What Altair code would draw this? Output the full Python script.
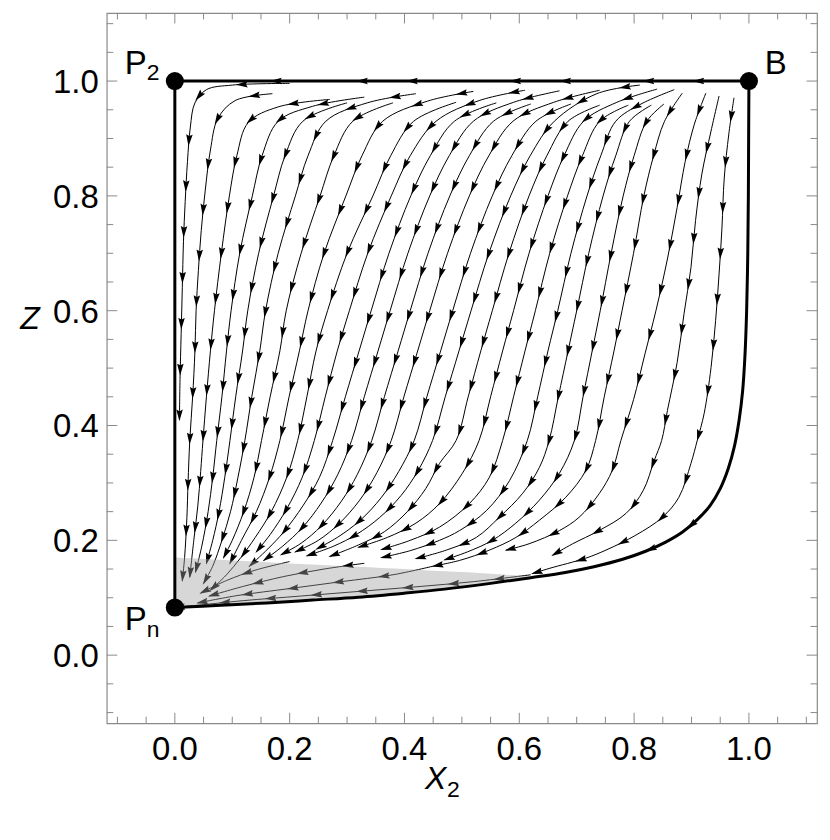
import math
import altair as alt
import pandas as pd

# ---------------- data ----------------
# streamlines, each a list of (X2, Z) points in flow direction
L1 = [(0.20, 0.996), (0.10, 0.993), (0.055, 0.985), (0.035, 0.962), (0.027, 0.92), (0.022, 0.86),
      (0.018, 0.79), (0.015, 0.72), (0.013, 0.64), (0.011, 0.56), (0.009, 0.48), (0.008, 0.41)]
A1 = [(0.17, 0.978), (0.105, 0.966), (0.075, 0.935), (0.062, 0.88), (0.053, 0.81), (0.046, 0.74),
      (0.041, 0.67), (0.037, 0.6), (0.035, 0.53), (0.031, 0.45), (0.026, 0.374), (0.023, 0.30),
      (0.021, 0.24), (0.017, 0.17), (0.013, 0.13)]
A2 = [(0.27, 0.968), (0.18, 0.955), (0.128, 0.928), (0.108, 0.87), (0.095, 0.8), (0.081, 0.7),
      (0.069, 0.6), (0.062, 0.53), (0.055, 0.45), (0.049, 0.374), (0.045, 0.32), (0.04, 0.26),
      (0.033, 0.2), (0.026, 0.136)]
A3 = [(0.33, 0.972), (0.24, 0.956), (0.18, 0.93), (0.152, 0.87), (0.135, 0.8), (0.113, 0.7),
      (0.098, 0.6), (0.09, 0.53), (0.082, 0.45), (0.073, 0.374), (0.066, 0.31), (0.058, 0.25),
      (0.047, 0.19), (0.036, 0.145)]
A4 = [(0.3, 0.962), (0.223, 0.93), (0.192, 0.87), (0.172, 0.8), (0.146, 0.7), (0.127, 0.6),
      (0.118, 0.53), (0.106, 0.45), (0.096, 0.374), (0.087, 0.31), (0.077, 0.25), (0.066, 0.2),
      (0.055, 0.16)]
A5 = [(0.42, 0.978), (0.335, 0.962), (0.263, 0.93), (0.232, 0.87), (0.21, 0.8), (0.18, 0.7),
      (0.158, 0.6), (0.148, 0.53), (0.134, 0.45), (0.122, 0.374), (0.11, 0.31), (0.097, 0.25),
      (0.082, 0.2), (0.066, 0.155), (0.05, 0.125)]
A6 = [(0.38, 0.962), (0.31, 0.93), (0.277, 0.87), (0.253, 0.8), (0.22, 0.7), (0.194, 0.6),
      (0.183, 0.53), (0.166, 0.45), (0.151, 0.374), (0.138, 0.31), (0.12, 0.25), (0.1, 0.2),
      (0.085, 0.17)]
A7 = [(0.52, 0.982), (0.44, 0.965), (0.362, 0.93), (0.326, 0.87), (0.298, 0.8), (0.26, 0.7),
      (0.232, 0.6), (0.217, 0.53), (0.199, 0.45), (0.183, 0.374), (0.165, 0.31), (0.142, 0.25),
      (0.116, 0.2), (0.096, 0.16)]
A8 = [(0.49, 0.963), (0.416, 0.93), (0.376, 0.87), (0.345, 0.8), (0.30, 0.7), (0.266, 0.6),
      (0.246, 0.53), (0.23, 0.45), (0.214, 0.374), (0.195, 0.31), (0.168, 0.25), (0.14, 0.205),
      (0.115, 0.17), (0.09, 0.14), (0.062, 0.113)]
A9 = [(0.61, 0.984), (0.53, 0.966), (0.455, 0.93), (0.41, 0.87), (0.377, 0.8), (0.336, 0.7),
      (0.304, 0.6), (0.283, 0.53), (0.262, 0.45), (0.243, 0.374), (0.222, 0.31), (0.195, 0.255),
      (0.166, 0.21), (0.142, 0.18)]
A10 = [(0.56, 0.962), (0.487, 0.93), (0.445, 0.87), (0.411, 0.8), (0.373, 0.7), (0.342, 0.6),
       (0.321, 0.53), (0.297, 0.45), (0.275, 0.374), (0.252, 0.31), (0.223, 0.26), (0.19, 0.215),
       (0.162, 0.185), (0.13, 0.155)]
A11 = [(0.67, 0.983), (0.59, 0.963), (0.52, 0.93), (0.478, 0.87), (0.444, 0.8), (0.406, 0.7),
       (0.375, 0.6), (0.354, 0.53), (0.33, 0.45), (0.308, 0.374), (0.284, 0.315), (0.255, 0.265),
       (0.222, 0.222), (0.188, 0.19), (0.155, 0.165)]
A12 = [(0.62, 0.96), (0.555, 0.93), (0.513, 0.87), (0.479, 0.8), (0.441, 0.7), (0.41, 0.6),
       (0.389, 0.53), (0.365, 0.45), (0.343, 0.374), (0.318, 0.315), (0.29, 0.268), (0.255, 0.225),
       (0.22, 0.195), (0.185, 0.175)]
A13 = [(0.74, 0.984), (0.66, 0.963), (0.589, 0.93), (0.547, 0.87), (0.513, 0.8), (0.475, 0.7),
       (0.444, 0.6), (0.423, 0.53), (0.399, 0.45), (0.377, 0.374), (0.352, 0.318), (0.322, 0.27),
       (0.287, 0.23), (0.25, 0.2), (0.21, 0.18)]
A14 = [(0.69, 0.96), (0.629, 0.93), (0.587, 0.87), (0.553, 0.8), (0.515, 0.7), (0.484, 0.6),
       (0.463, 0.53), (0.439, 0.45), (0.417, 0.374), (0.39, 0.32), (0.36, 0.275), (0.323, 0.235),
       (0.283, 0.205), (0.247, 0.185)]
A15 = [(0.81, 0.993), (0.735, 0.978), (0.661, 0.93), (0.619, 0.87), (0.585, 0.8), (0.547, 0.7),
       (0.516, 0.6), (0.495, 0.53), (0.471, 0.45), (0.449, 0.374), (0.424, 0.322), (0.394, 0.278),
       (0.357, 0.24), (0.316, 0.21), (0.277, 0.19), (0.23, 0.173)]
A16 = [(0.74, 0.958), (0.685, 0.93), (0.648, 0.87), (0.617, 0.8), (0.582, 0.7), (0.553, 0.6),
       (0.533, 0.53), (0.511, 0.45), (0.49, 0.374), (0.461, 0.334), (0.437, 0.29), (0.405, 0.25),
       (0.365, 0.215), (0.32, 0.192), (0.27, 0.172)]
A17 = [(0.84, 0.986), (0.77, 0.963), (0.712, 0.93), (0.678, 0.87), (0.65, 0.8), (0.617, 0.7),
       (0.59, 0.6), (0.571, 0.53), (0.55, 0.45), (0.53, 0.374), (0.501, 0.317), (0.461, 0.264),
       (0.42, 0.23), (0.37, 0.205), (0.32, 0.188)]
A18 = [(0.79, 0.958), (0.74, 0.93), (0.71, 0.87), (0.684, 0.8), (0.653, 0.7), (0.628, 0.6),
       (0.61, 0.53), (0.59, 0.45), (0.571, 0.374), (0.548, 0.31), (0.513, 0.264), (0.461, 0.223),
       (0.41, 0.2), (0.36, 0.184)]
A19 = [(0.87, 0.985), (0.812, 0.96), (0.768, 0.93), (0.742, 0.87), (0.718, 0.8), (0.69, 0.7),
       (0.667, 0.6), (0.65, 0.53), (0.632, 0.45), (0.614, 0.374), (0.583, 0.304), (0.543, 0.252),
       (0.496, 0.217), (0.461, 0.2), (0.41, 0.182), (0.36, 0.17)]
A20 = [(0.83, 0.958), (0.792, 0.93), (0.768, 0.87), (0.746, 0.8), (0.721, 0.7), (0.7, 0.6),
       (0.685, 0.53), (0.668, 0.45), (0.652, 0.374), (0.635, 0.327), (0.606, 0.282), (0.565, 0.24),
       (0.525, 0.205), (0.473, 0.183), (0.42, 0.168)]
A21 = [(0.852, 0.96), (0.822, 0.93), (0.8, 0.87), (0.781, 0.8), (0.76, 0.7), (0.741, 0.6),
       (0.727, 0.53), (0.711, 0.45), (0.696, 0.374), (0.67, 0.317), (0.635, 0.27), (0.594, 0.23),
       (0.553, 0.2), (0.51, 0.18), (0.47, 0.166)]
A22 = [(0.884, 0.979), (0.853, 0.93), (0.834, 0.87), (0.817, 0.8), (0.799, 0.7), (0.779, 0.6),
       (0.765, 0.53), (0.748, 0.45), (0.733, 0.374), (0.716, 0.322), (0.681, 0.275), (0.635, 0.235),
       (0.594, 0.205), (0.548, 0.183), (0.496, 0.165), (0.45, 0.155)]
A23 = [(0.925, 0.979), (0.905, 0.925), (0.889, 0.86), (0.875, 0.78), (0.858, 0.69), (0.838, 0.6),
       (0.819, 0.525), (0.799, 0.445), (0.777, 0.374), (0.762, 0.322), (0.739, 0.281), (0.704, 0.24),
       (0.67, 0.217), (0.617, 0.194), (0.577, 0.183)]
A24 = [(0.948, 0.974), (0.934, 0.913), (0.918, 0.838), (0.907, 0.757), (0.899, 0.675), (0.887, 0.595),
       (0.875, 0.51), (0.858, 0.426), (0.848, 0.374), (0.835, 0.339), (0.816, 0.287), (0.786, 0.247),
       (0.739, 0.217), (0.693, 0.194), (0.658, 0.174)]
A25 = [(0.974, 0.971), (0.965, 0.908), (0.957, 0.831), (0.953, 0.744), (0.948, 0.664), (0.942, 0.583),
       (0.934, 0.501), (0.922, 0.421), (0.91, 0.374), (0.899, 0.334), (0.878, 0.275), (0.849, 0.24),
       (0.803, 0.209), (0.751, 0.183), (0.716, 0.169), (0.652, 0.151), (0.623, 0.142)]
# streamlines inside the shaded basin, running into Pn
G1 = [(0.62, 0.14), (0.52, 0.128), (0.42, 0.119), (0.32, 0.111), (0.22, 0.103), (0.12, 0.095),
      (0.05, 0.088), (0.0, 0.083)]
G2 = [(0.45, 0.155), (0.38, 0.14), (0.29, 0.128), (0.2, 0.116), (0.11, 0.104), (0.04, 0.091)]
G3 = [(0.33, 0.16), (0.26, 0.15), (0.19, 0.137), (0.12, 0.12), (0.06, 0.103)]
G4 = [(0.2, 0.163), (0.14, 0.148), (0.09, 0.13), (0.045, 0.108)]

STREAMS = [L1, A1, A2, A3, A4, A5, A6, A7, A8, A9, A10, A11, A12, A13, A14, A15, A16, A17,
           A18, A19, A20, A21, A22, A23, A24, A25, G1, G2, G3, G4]

# heavy separatrix from B down to Pn
BOUNDARY_X = [1.0, 0.9995, 0.999, 0.998, 0.996, 0.993, 0.989, 0.983, 0.975, 0.964, 0.95, 0.932,
              0.91, 0.885, 0.855, 0.82, 0.78, 0.73, 0.68, 0.62, 0.55, 0.47, 0.4, 0.32, 0.24,
              0.16, 0.08, 0.0]
BOUNDARY_Y = [1.0, 0.9, 0.8, 0.7, 0.6, 0.52, 0.46, 0.41, 0.365, 0.325, 0.29, 0.26,
              0.236, 0.215, 0.197, 0.181, 0.167, 0.154, 0.144, 0.135, 0.125, 0.115, 0.108, 0.101,
              0.096, 0.091, 0.087, 0.083]
BOUNDARY_ARROW_X = [0.9, 0.83]
# heavy edges: top (B -> P2) and left (P2 -> Pn)
TOP_EDGE_X = [1.0, 0.0]
TOP_EDGE_Y = [1.0, 1.0]
LEFT_EDGE_X = [0.0, 0.0]
LEFT_EDGE_Y = [1.0, 0.083]
TOP_ARROW_X = [0.177, 0.327, 0.414, 0.594, 0.681, 0.826, 0.913]

# shaded basin
GRAY_X = [0.0, 0.08, 0.16, 0.24, 0.32, 0.4, 0.47, 0.55, 0.62]
GRAY_TOP_Y = [0.170, 0.166, 0.162, 0.158, 0.154, 0.150, 0.146, 0.142, 0.137]
GRAY_BOTTOM_Y = [0.083, 0.087, 0.091, 0.096, 0.101, 0.108, 0.115, 0.125, 0.135]

# equilibrium points
POINT_NAMES = ["P2", "B", "Pn"]
POINT_X = [0.0, 1.0, 0.0]
POINT_Y = [1.0, 1.0, 0.083]

# ticks
TICK_VALUES = [0.0, 0.2, 0.4, 0.6, 0.8, 1.0]
TICK_LABELS = ["0.0", "0.2", "0.4", "0.6", "0.8", "1.0"]
MINOR_TICKS = [-0.1, -0.05, 0.05, 0.1, 0.15, 0.25, 0.3, 0.35, 0.45, 0.5, 0.55, 0.65, 0.7, 0.75,
               0.85, 0.9, 0.95, 1.05, 1.1]

# ---------------- layout ----------------
XMIN, XMAX = -0.1186, 1.1186
YMIN, YMAX = -0.1186, 1.1186
W = H = 712
PX = W / (XMAX - XMIN)
FONT = "Liberation Sans"
FRAME = "#8a8a8a"
ARROW = "M0,-1L0.5,0.8L0,0.55L-0.5,0.8Z"
ARROW_SIZE = 170
SPACING = 46.0

XS = alt.Scale(domain=[XMIN, XMAX], nice=False, zero=False)
YS = alt.Scale(domain=[YMIN, YMAX], nice=False, zero=False)


def X(f="x"):
    return alt.X(f"{f}:Q", scale=XS, axis=None)


def Y(f="y"):
    return alt.Y(f"{f}:Q", scale=YS, axis=None)


def cr_samples(pts, nseg=30):
    """Sample the centripetal Catmull-Rom curve that Vega draws (d3 curveCatmullRom)."""
    P = [(x * PX, y * PX) for x, y in pts]
    n = len(P)
    out = []
    for i in range(n - 1):
        p1, p2 = P[i], P[i + 1]
        d12 = math.dist(p1, p2)
        l12a, l12_2a = math.sqrt(d12), d12
        c1, c2 = p1, p2
        if i > 0:
            p0 = P[i - 1]
            d01 = math.dist(p0, p1)
            l01a, l01_2a = math.sqrt(d01), d01
            if l01a > 1e-9:
                a = 2 * l01_2a + 3 * l01a * l12a + l12_2a
                nn = 3 * l01a * (l01a + l12a)
                c1 = tuple((p1[k] * a - p0[k] * l12_2a + p2[k] * l01_2a) / nn for k in range(2))
        if i + 2 < n:
            p3 = P[i + 2]
            d23 = math.dist(p2, p3)
            l23a, l23_2a = math.sqrt(d23), d23
            if l23a > 1e-9:
                b = 2 * l23_2a + 3 * l23a * l12a + l12_2a
                m = 3 * l23a * (l23a + l12a)
                c2 = tuple((p2[k] * b + p1[k] * l23_2a - p3[k] * l12_2a) / m for k in range(2))
        for j in range(nseg):
            t = j / nseg
            u = 1 - t
            out.append(tuple(u**3 * p1[k] + 3 * u * u * t * c1[k] + 3 * u * t * t * c2[k] + t**3 * p2[k]
                             for k in range(2)))
    out.append(P[-1])
    return out


def angle_of(dx, dy):
    return math.degrees(math.atan2(dx, dy)) % 360


def arrows_along(pts):
    S = cr_samples(pts)
    cum = [0.0]
    for a, b in zip(S[:-1], S[1:]):
        cum.append(cum[-1] + math.dist(a, b))
    total = cum[-1]
    res = []
    s = total - 5.0
    while s > 10.0:
        j = 1
        while j < len(cum) - 1 and cum[j] < s:
            j += 1
        a, b = S[j - 1], S[j]
        seg = cum[j] - cum[j - 1]
        f = (s - cum[j - 1]) / seg if seg > 0 else 0
        xx = a[0] + f * (b[0] - a[0])
        yy = a[1] + f * (b[1] - a[1])
        res.append({"x": xx / PX, "y": yy / PX, "angle": angle_of(b[0] - a[0], b[1] - a[1])})
        s -= SPACING
    return res


# ---------------- tables ----------------
line_rows, arrow_rows = [], []
for li, pts in enumerate(STREAMS):
    for i, (x, y) in enumerate(pts):
        line_rows.append({"line": li, "i": i, "x": x, "y": y})
    arrow_rows.extend(arrows_along(pts))
lines_df = pd.DataFrame(line_rows)
arrows_df = pd.DataFrame(arrow_rows)

heavy_rows = []
for i, (x, y) in enumerate(zip(TOP_EDGE_X, TOP_EDGE_Y)):
    heavy_rows.append({"seg": "top", "i": i, "x": x, "y": y})
for i, (x, y) in enumerate(zip(LEFT_EDGE_X, LEFT_EDGE_Y)):
    heavy_rows.append({"seg": "left", "i": i, "x": x, "y": y})
for i, (x, y) in enumerate(zip(BOUNDARY_X, BOUNDARY_Y)):
    heavy_rows.append({"seg": "curve", "i": i, "x": x, "y": y})
heavy_df = pd.DataFrame(heavy_rows)

heavy_arrows = [{"x": x, "y": 1.0, "angle": 270.0} for x in TOP_ARROW_X]
BS = cr_samples(list(zip(BOUNDARY_X, BOUNDARY_Y)))
for tx in BOUNDARY_ARROW_X:
    j = min(range(1, len(BS)), key=lambda k: abs(BS[k][0] / PX - tx))
    a, b = BS[j - 1], BS[j]
    heavy_arrows.append({"x": b[0] / PX, "y": b[1] / PX, "angle": angle_of(b[0] - a[0], b[1] - a[1])})
heavy_arrows_df = pd.DataFrame(heavy_arrows)

gray_df = pd.DataFrame({"x": GRAY_X, "top": GRAY_TOP_Y, "bottom": GRAY_BOTTOM_Y})
points_df = pd.DataFrame({"name": POINT_NAMES, "x": POINT_X, "y": POINT_Y})

# ---------------- layers ----------------
layers = []
layers.append(alt.Chart(lines_df).mark_line(interpolate="catmull-rom", color="black", strokeWidth=1.0)
              .encode(x=X(), y=Y(), detail="line:N", order="i:Q"))
layers.append(alt.Chart(arrows_df).mark_point(shape=ARROW, filled=True, color="black", opacity=1,
                                              size=ARROW_SIZE, strokeWidth=0)
              .encode(x=X(), y=Y(), angle=alt.Angle("angle:Q", scale=None)))
layers.append(alt.Chart(gray_df).mark_area(color="#a0a0a0", opacity=0.42, interpolate="catmull-rom")
              .encode(x=X(), y=Y("top"), y2=alt.Y2("bottom:Q")))
layers.append(alt.Chart(heavy_df).mark_line(interpolate="catmull-rom", color="black", strokeWidth=3.0)
              .encode(x=X(), y=Y(), detail="seg:N", order="i:Q"))
layers.append(alt.Chart(heavy_arrows_df).mark_point(shape=ARROW, filled=True, color="black", opacity=1,
                                                    size=ARROW_SIZE, strokeWidth=0)
              .encode(x=X(), y=Y(), angle=alt.Angle("angle:Q", scale=None)))
layers.append(alt.Chart(points_df).mark_point(shape="circle", filled=True, color="black", opacity=1, size=330)
              .encode(x=X(), y=Y()))

# inward frame ticks
for vals, ln in ((TICK_VALUES, 10.5), (MINOR_TICKS, 6.5)):
    dfx = pd.DataFrame({"x": vals})
    dfy = pd.DataFrame({"y": vals})
    layers.append(alt.Chart(dfx).mark_rule(color=FRAME, strokeWidth=1)
                  .encode(x=X(), y=alt.value(H), y2=alt.value(H - ln)))
    layers.append(alt.Chart(dfx).mark_rule(color=FRAME, strokeWidth=1)
                  .encode(x=X(), y=alt.value(0), y2=alt.value(ln)))
    layers.append(alt.Chart(dfy).mark_rule(color=FRAME, strokeWidth=1)
                  .encode(y=Y(), x=alt.value(0), x2=alt.value(ln)))
    layers.append(alt.Chart(dfy).mark_rule(color=FRAME, strokeWidth=1)
                  .encode(y=Y(), x=alt.value(W), x2=alt.value(W - ln)))

# tick labels
lab_x = pd.DataFrame({"x": TICK_VALUES, "label": TICK_LABELS})
lab_y = pd.DataFrame({"y": TICK_VALUES, "label": TICK_LABELS})
layers.append(alt.Chart(lab_x).mark_text(font=FONT, fontSize=33, baseline="top", align="center", color="black")
              .encode(x=X(), y=alt.value(H + 11), text="label:N"))
layers.append(alt.Chart(lab_y).mark_text(font=FONT, fontSize=33, baseline="middle", align="right",
                                         color="black", dy=2)
              .encode(y=Y(), x=alt.value(-8), text="label:N"))

ONE = pd.DataFrame({"a": [0]})


def label(text, x, y, size, style="normal", align="left", baseline="alphabetic"):
    return (alt.Chart(ONE).mark_text(text=text, font=FONT, fontSize=size, fontStyle=style, align=align,
                                     baseline=baseline, color="black")
            .encode(x=alt.value(x), y=alt.value(y)))


layers += [
    label("P", 18, 61, 33), label("2", 40, 67, 23),
    label("B", 670.5, 61, 33, align="center"),
    label("P", 18, 619, 33), label("n", 40, 626, 23),
    label("Z", -77, 307, 32, style="italic", align="center", baseline="middle"),
    label("X", 319, 778, 32, style="italic"), label("2", 341, 786, 23),
]

chart = (alt.layer(*layers)
         .properties(width=W, height=H,
                     padding={"left": 99, "top": 4, "right": 5, "bottom": 90},
                     autosize=alt.AutoSizeParams(type="none"),
                     background="white")
         .configure_view(stroke=FRAME, strokeWidth=1.2))

chart.save("out.html", embed_options={"renderer": "svg", "actions": False})
